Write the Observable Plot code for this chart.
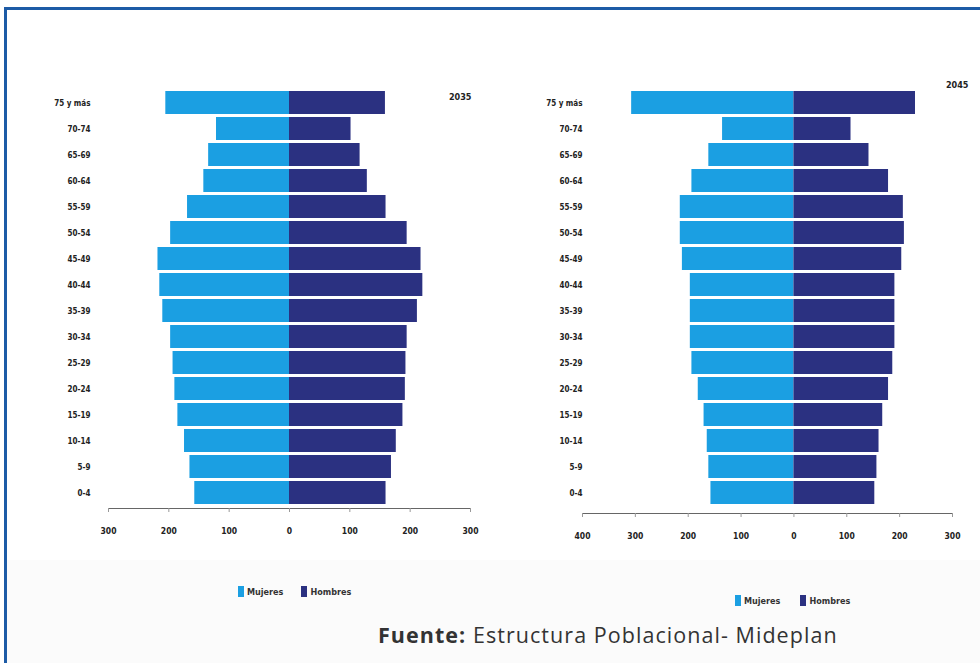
<!DOCTYPE html>
<html>
<head>
<meta charset="utf-8">
<script src="https://cdn.jsdelivr.net/npm/d3@7"></script>
<script src="https://cdn.jsdelivr.net/npm/@observablehq/plot@0.6"></script>
<style>
  html, body { margin: 0; padding: 0; background: #fff; width: 980px; height: 663px; overflow: hidden; }
  #frame { position: absolute; left: 4px; top: 7px; width: 1000px; height: 700px; border: 3px solid #1d5ba6; box-sizing: border-box; }
  #bottomband { position: absolute; left: 7px; top: 560px; width: 980px; height: 110px; background: #fbfbfb; }
  .chart { position: absolute; top: 0; }
  .legend { position: absolute; font-family: "DejaVu Sans Condensed", "DejaVu Sans", sans-serif; font-weight: bold; font-size: 9px; color: #333; display: flex; align-items: center; }
  .sw { display: inline-block; width: 6px; height: 11px; margin-right: 3px; }
  #caption { position: absolute; left: 378px; top: 620px; font-family: "Open Sans", sans-serif; font-size: 21.5px; letter-spacing: 1.05px; color: #333; white-space: nowrap; }
</style>
</head>
<body>
<div id="frame"></div>
<div id="bottomband"></div>
<div id="left" class="chart" style="left:0px"></div>
<div id="right" class="chart" style="left:500px"></div>
<div class="legend" style="left:238px; top:586px"><span class="sw" style="background:#1b9fe2"></span>Mujeres<span style="width:18px"></span><span class="sw" style="background:#2b3181"></span>Hombres</div>
<div class="legend" style="left:735px; top:595px"><span class="sw" style="background:#1b9fe2"></span>Mujeres<span style="width:20px"></span><span class="sw" style="background:#2b3181"></span>Hombres</div>
<div id="caption"><b>Fuente:</b> Estructura Poblacional- Mideplan</div>
<script>
// Age groups, top to bottom
const ages = ["75 y más", "70-74", "65-69", "60-64", "55-59", "50-54", "45-49", "40-44",
              "35-39", "30-34", "25-29", "20-24", "15-19", "10-14", "5-9", "0-4"];
const sexes = ["Mujeres", "Hombres"];
const colors = ["#1b9fe2", "#2b3181"];

// 2035 (miles)
const mujeres2035 = [205, 121, 134, 142, 169, 197, 218, 215, 210, 197, 193, 190, 185, 174, 165, 157];
const hombres2035 = [159, 102, 117, 129, 160, 195, 218, 221, 212, 195, 193, 192, 188, 177, 169, 160];

// 2045 (miles)
const mujeres2045 = [307, 135, 161, 193, 215, 215, 211, 196, 196, 196, 193, 181, 170, 164, 161, 157];
const hombres2045 = [230, 108, 142, 179, 207, 209, 204, 191, 191, 191, 187, 179, 168, 161, 157, 153];

const ticks2035 = [-300, -200, -100, 0, 100, 200, 300];
const ticks2045 = [-400, -300, -200, -100, 0, 100, 200, 300];

const fontFam = '"DejaVu Sans Condensed", "DejaVu Sans", sans-serif';

function pyramid(opts) {
  const data = ages.flatMap((a, i) => [
    {age: a, sex: "Mujeres", v: -opts.mujeres[i]},
    {age: a, sex: "Hombres", v: opts.hombres[i]}
  ]);
  return Plot.plot({
    width: opts.width,
    height: opts.height,
    marginLeft: opts.marginLeft,
    marginRight: opts.marginRight,
    marginTop: opts.marginTop,
    marginBottom: opts.marginBottom,
    style: {fontFamily: fontFam, fontWeight: "bold", fontSize: "8.5px", color: "#222", background: "transparent", overflow: "visible"},
    x: {domain: opts.xDomain, label: null},
    y: {domain: ages, label: null, padding: 0.1},
    color: {domain: sexes, range: colors},
    marks: [
      Plot.barX(data, {x: "v", y: "age", fill: "sex"}),
      Plot.frame({anchor: "bottom", stroke: "#666"}),
      Plot.axisX({ticks: opts.ticks, tickFormat: d => Math.abs(d), tickSize: 4, tickPadding: 15, stroke: "#999", label: null}),
      Plot.axisY({tickSize: 0, tickPadding: opts.yPad, label: null, fontSize: 8}),
      Plot.text([opts.title], {frameAnchor: "top-right", dx: opts.titleDx, dy: opts.titleDy, fontSize: 9, fontWeight: "bold"})
    ]
  });
}

document.getElementById("left").append(pyramid({
  mujeres: mujeres2035, hombres: hombres2035,
  xDomain: [-300, 300], ticks: ticks2035,
  width: 500, height: 560, marginLeft: 108, marginRight: 30, marginTop: 87, marginBottom: 52,
  yPad: 18, title: "2035", titleDx: 1, titleDy: 6
}));

document.getElementById("right").append(pyramid({
  mujeres: mujeres2045, hombres: hombres2045,
  xDomain: [-400, 300], ticks: ticks2045,
  width: 480, height: 560, marginLeft: 82, marginRight: 28, marginTop: 83, marginBottom: 47,
  yPad: 0, title: "2045", titleDx: 16, titleDy: -2
}));
</script>
</body>
</html>
